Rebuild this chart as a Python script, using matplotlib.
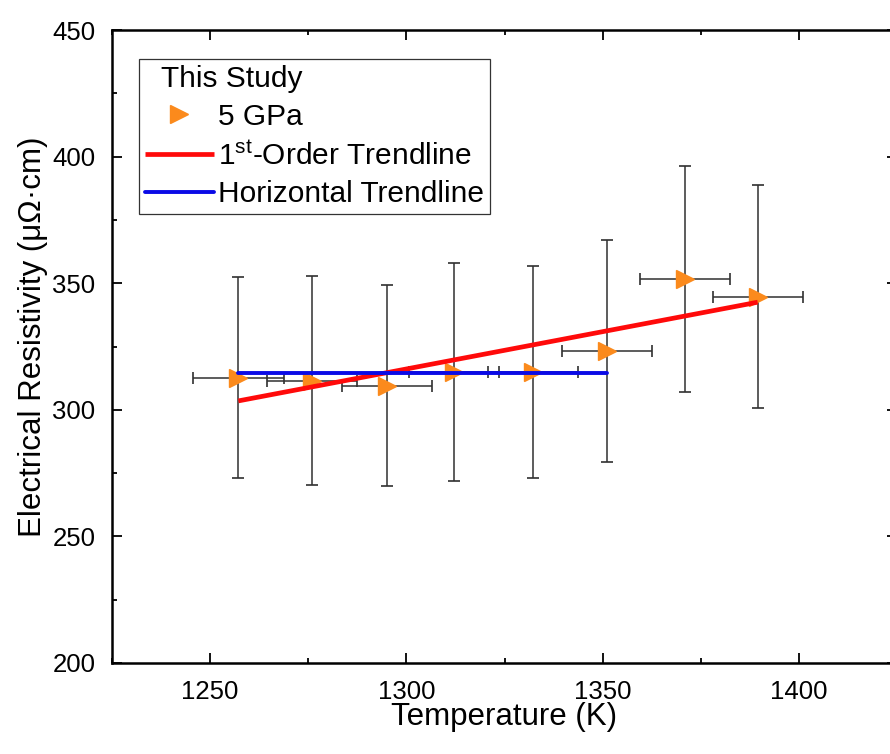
import numpy as np
import matplotlib
matplotlib.use("Agg")
import matplotlib.pyplot as plt
from matplotlib.ticker import MultipleLocator

# Measured resistivity at 5 GPa
temperature_K = [1257.2, 1275.9, 1295.1, 1312.1, 1332.3, 1351.2, 1371.0, 1389.5]
temperature_err = [11.5, 11.5, 11.5, 11.5, 11.5, 11.5, 11.5, 11.5]
resistivity = [312.7, 311.5, 309.5, 315.0, 315.0, 323.2, 351.7, 344.7]
resistivity_err = [39.7, 41.2, 39.7, 43.0, 41.9, 44.0, 44.5, 44.1]

# Number of leading points averaged by the horizontal trendline
flat_count = 6

legend_title = "This Study"
series_label = "5 GPa"
fit_label = r"1$^{\mathregular{st}}$-Order Trendline"
flat_label = "Horizontal Trendline"
x_label = "Temperature (K)"
y_label = "Electrical Resistivity (μΩ·cm)"

ORANGE = "#FB8A1C"
RED = "#FF0A0A"
BLUE = "#0A0AE6"

plt.rcParams["font.family"] = ["Liberation Sans", "DejaVu Sans"]
plt.rcParams["mathtext.fontset"] = "custom"
plt.rcParams["mathtext.rm"] = "Liberation Sans"

W, H = 890, 754
fig = plt.figure(figsize=(W / 100, H / 100), dpi=100)
ax = fig.add_axes([112 / W, (H - 663) / H, 785 / W, 633 / H])

T = np.array(temperature_K)
R = np.array(resistivity)

ax.errorbar(T, R, xerr=temperature_err, yerr=resistivity_err, fmt="none",
            ecolor="#303030", elinewidth=1.1, capsize=4.3, capthick=1.2,
            zorder=2)
pts, = ax.plot(T, R, linestyle="none", marker=">", markersize=12.5,
               color=ORANGE, markeredgecolor=ORANGE, zorder=3,
               label=series_label)

# First-order least-squares trendline over all points
coef = np.polyfit(T, R, 1)
t_fit = np.array([T[0], T[-1]])
fit_line, = ax.plot(t_fit, np.polyval(coef, t_fit), color=RED, lw=3.4,
                    solid_capstyle="butt", zorder=4, label=fit_label)

# Horizontal trendline: mean of the lower-temperature points
flat_val = R[:flat_count].mean()
flat_line, = ax.plot([T[0], T[flat_count - 1]], [flat_val, flat_val],
                     color=BLUE, lw=2.8, solid_capstyle="round", zorder=4,
                     label=flat_label)

ax.set_xlim(1225, 1425)
ax.set_ylim(200, 450)
ax.xaxis.set_major_locator(MultipleLocator(50))
ax.xaxis.set_minor_locator(MultipleLocator(25))
ax.yaxis.set_major_locator(MultipleLocator(50))
ax.yaxis.set_minor_locator(MultipleLocator(25))
ax.tick_params(which="both", direction="in", top=True, right=True,
               labelsize=18.5, pad=12, colors="black")
ax.tick_params(which="major", length=7, width=1.3)
ax.tick_params(which="minor", length=3.5, width=1.3)
for sp in ax.spines.values():
    sp.set_linewidth(1.8)

ax.set_xlabel(x_label, fontsize=22.5)
ax.set_ylabel(y_label, fontsize=22.5)
ax.xaxis.set_label_coords(0.5, -0.062)
ax.yaxis.set_label_coords(-0.082, 0.515)

leg = ax.legend(handles=[pts, fit_line, flat_line],
                title="  " + legend_title, loc="upper left",
                bbox_to_anchor=(27 / 785, 1 - 29 / 633), borderaxespad=0,
                fontsize=21.5, title_fontsize=21.5, alignment="left",
                frameon=True, fancybox=False, edgecolor="#333333",
                framealpha=1, borderpad=0.2, labelspacing=0.33,
                handlelength=2.3, handletextpad=0.15, numpoints=1)
leg.get_frame().set_linewidth(0.9)

fig.savefig("out.png", dpi=100)
